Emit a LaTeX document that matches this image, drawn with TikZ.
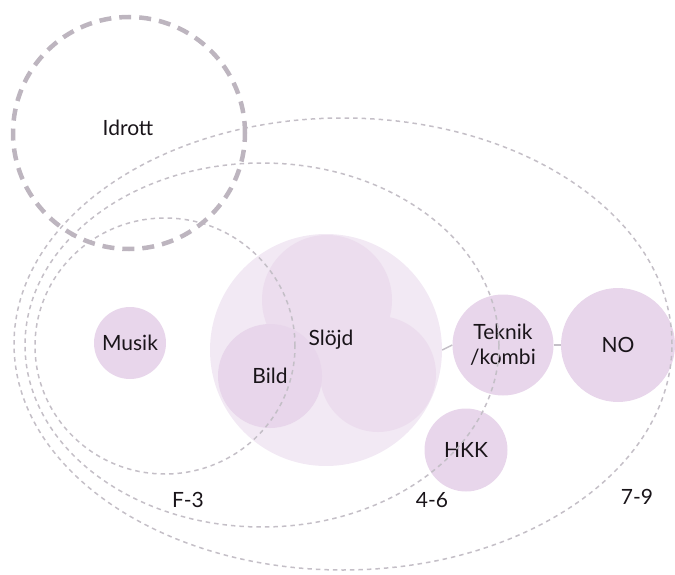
\documentclass[tikz,border=0pt]{standalone}
\usepackage{fontspec}
\setmainfont{Lato}
\usepackage{tikz}
\definecolor{lila}{rgb}{0.91,0.84,0.92}
\definecolor{mellanlila}{rgb}{0.925,0.865,0.935}
\definecolor{ljuslila}{rgb}{0.95,0.915,0.955}
\definecolor{streck}{rgb}{0.77,0.75,0.78}
\definecolor{idrottgra}{rgb}{0.74,0.71,0.75}
\definecolor{textsvart}{rgb}{0.1,0.08,0.1}
\tikzset{
  bubbla/.style={circle,fill=lila,inner sep=0pt,text=textsvart,align=center,font=\fontsize{21}{25}\selectfont},
  stadie/.style={draw=streck,line width=1.5pt,dash pattern=on 4.5pt off 4pt},
  etikett/.style={text=textsvart,font=\fontsize{21}{25}\selectfont}
}
\begin{document}
\begin{tikzpicture}[line cap=butt,line join=round,x=1pt,y=-1pt]
\useasboundingbox (0,0) rectangle (675,575);
% sloejd-gruppen
\node[bubbla,fill=ljuslila,minimum size=232pt] (slojdring) at (326,350) {};
\node[bubbla,fill=mellanlila,minimum size=130pt] (slojdtopp) at (327,300) {};
\node[bubbla,fill=mellanlila,minimum size=116pt] (slojdhoger) at (378,374) {};
\node[bubbla,minimum size=104pt] (bild) at (270,376) {};
\node[etikett] (slojd) at (331,340) {Slöjd};
\node[etikett] at (bild.center) {Bild};
% oevriga aemnen
\node[bubbla,minimum size=72pt] (musik) at (130,343) {Musik};
\node[bubbla,minimum size=101pt] (teknik) at (503,345) {Teknik\\/kombi};
\node[bubbla,minimum size=114pt] (no) at (618,345) {NO};
\node[bubbla,minimum size=83pt] (hkk) at (466,450) {HKK};
\draw[streck,line width=1.5pt] (slojdring.east) -- (teknik.west);
\draw[streck,line width=1.5pt] (teknik.east) -- (no.west);
% stadier
\draw[stadie] (165,346) ellipse [x radius=130pt,y radius=128pt];
\draw[stadie] (262,345) ellipse [x radius=237pt,y radius=182pt];
\draw[stadie] (343,344) ellipse [x radius=329pt,y radius=226pt];
\draw[draw=idrottgra,line width=4.5pt,dash pattern=on 12pt off 8pt] (129,133) circle [radius=116pt];
\node[etikett] (idrott) at (128,128) {Idrott};
\node[etikett] (f3) at (188,500) {F-3};
\node[etikett] (m46) at (432,500) {4-6};
\node[etikett] (m79) at (637,497) {7-9};
\end{tikzpicture}
\end{document}
